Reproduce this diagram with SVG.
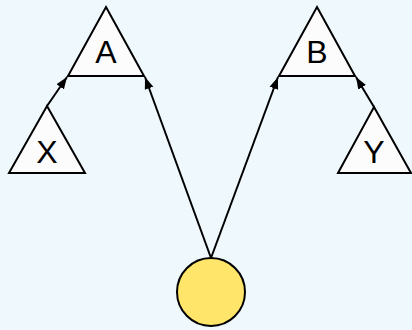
<svg xmlns="http://www.w3.org/2000/svg" width="412" height="330" viewBox="0 0 412 330">
<defs>
<marker id="arr" viewBox="0 0 12 10" refX="12" refY="5" markerWidth="12" markerHeight="10" markerUnits="userSpaceOnUse" orient="auto">
<path d="M0,0.5 L12,5 L0,9.5 Z" fill="#000"/>
</marker>
<style>
.tri{fill:#fcfcfc;stroke:#000;stroke-width:2;stroke-linejoin:miter}
.lbl{font-family:"Liberation Sans",Arial,sans-serif;font-size:32px;text-anchor:middle;fill:#000}
.edge{fill:none;stroke:#000;stroke-width:2;marker-end:url(#arr)}
</style>
</defs>
<rect width="412" height="330" fill="#eff8fd"/>
<g id="connectors">
<line class="edge" x1="211" y1="258" x2="145" y2="77"/>
<line class="edge" x1="211" y1="258" x2="278" y2="77"/>
<line class="edge" x1="47" y1="106" x2="67" y2="77"/>
<line class="edge" x1="374" y1="107" x2="356" y2="77"/>
</g>
<g id="A"><polygon class="tri" points="106,7 144,76 68,76"/><text class="lbl" x="106" y="63">A</text></g>
<g id="B"><polygon class="tri" points="317,7 355,76 279,76"/><text class="lbl" x="317" y="63">B</text></g>
<g id="X"><polygon class="tri" points="47,106 85,173 9,173"/><text class="lbl" x="47" y="163">X</text></g>
<g id="Y"><polygon class="tri" points="374,107 411,173 338,173"/><text class="lbl" x="374" y="163">Y</text></g>
<g id="root"><circle cx="211" cy="292" r="34" fill="#ffe66b" stroke="#000" stroke-width="2"/></g>
</svg>
